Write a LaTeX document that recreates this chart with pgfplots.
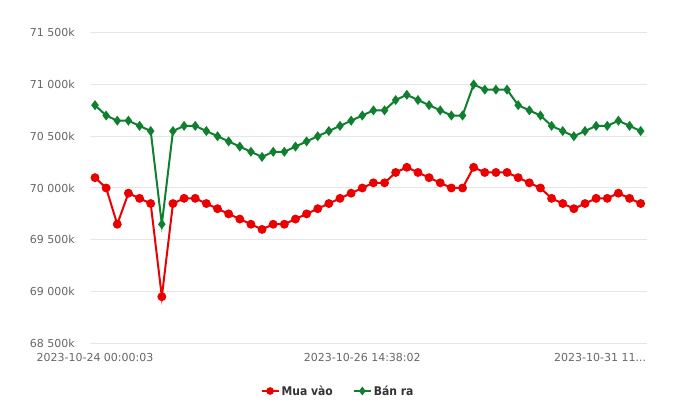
\documentclass[border=0pt]{standalone}
\usepackage{pgfplots}
\pgfplotsset{compat=1.18}
\usepackage{pgfplotstable}
\usepackage{fontspec}
\setmainfont{DejaVu Sans}
\newfontfamily\legfont{DejaVu Sans Condensed}
\definecolor{muared}{RGB}{235,0,0}
\definecolor{bangreen}{RGB}{16,128,48}
\definecolor{ticktext}{RGB}{102,102,102}
\definecolor{legtext}{RGB}{51,51,51}
\definecolor{gridgray}{RGB}{230,230,230}

% gia vang: mua vao / ban ra
\pgfplotstableread{
x red green
0 70100 70800
1 70000 70700
2 69650 70650
3 69950 70650
4 69900 70600
5 69850 70550
6 68950 69650
7 69850 70550
8 69900 70600
9 69900 70600
10 69850 70550
11 69800 70500
12 69750 70450
13 69700 70400
14 69650 70350
15 69600 70300
16 69650 70350
17 69650 70350
18 69700 70400
19 69750 70450
20 69800 70500
21 69850 70550
22 69900 70600
23 69950 70650
24 70000 70700
25 70050 70750
26 70050 70750
27 70150 70850
28 70200 70900
29 70150 70850
30 70100 70800
31 70050 70750
32 70000 70700
33 70000 70700
34 70200 71000
35 70150 70950
36 70150 70950
37 70150 70950
38 70100 70800
39 70050 70750
40 70000 70700
41 69900 70600
42 69850 70550
43 69800 70500
44 69850 70550
45 69900 70600
46 69900 70600
47 69950 70650
48 69900 70600
49 69850 70550
}\prices

\begin{document}
\begin{tikzpicture}
\useasboundingbox (0pt,0pt) rectangle (680pt,420pt);
\begin{axis}[
    at={(90pt,76.7pt)}, anchor=south west,
    scale only axis,
    width=556.7pt, height=310.6pt,
    xmin=-0.45, xmax=49.54,
    ymin=68500, ymax=71500,
    scaled y ticks=false,
    axis line style={draw=none},
    major tick length=0pt,
    ymajorgrids=true,
    grid style={gridgray, line width=1pt},
    ytick={68500,69000,69500,70000,70500,71000,71500},
    yticklabels={68 500k,69 000k,69 500k,70 000k,70 500k,71 000k,71 500k},
    xtick={0,24,48},
    xticklabels={2023-10-24 00:00:03,2023-10-26 14:38:02,\makebox[33pt][r]{2023-10-31 11...}},
    ticklabel style={font=\fontsize{11}{13}\selectfont, text=ticktext},
    yticklabel style={anchor=east, inner sep=0pt, xshift=-15pt},
    xticklabel style={anchor=north, inner sep=0pt, yshift=-10pt},
    clip=false,
    legend columns=2,
    legend cell align=left,
    legend style={at={(0.4455,-0.1536)}, anchor=center, draw=none, fill=none,
        font=\fontsize{12}{14}\selectfont\legfont\bfseries, text=legtext,
        /tikz/every even column/.append style={column sep=18pt}},
    legend image code/.code={\draw[mark repeat=2,mark phase=2,mark size=2.8pt]
        plot coordinates {(0pt,0pt) (8.5pt,0pt) (17pt,0pt)};},
]
\addplot[muared, line width=2pt, mark=*, mark size=3.4pt] table[x=x, y=red] {\prices};
\addplot[bangreen, line width=2pt, mark=diamond*, mark size=3.4pt] table[x=x, y=green] {\prices};
\legend{Mua vào, Bán ra}
\end{axis}
\end{tikzpicture}
\end{document}
